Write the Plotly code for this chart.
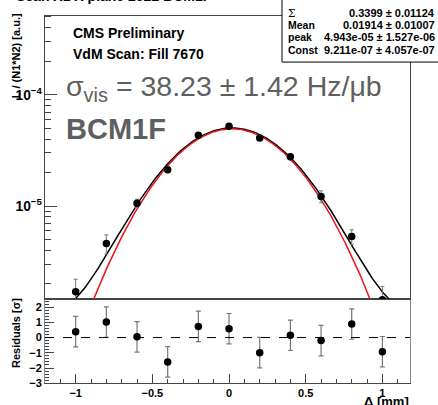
import numpy as np
import plotly.graph_objects as go

# ---- data ----
sep = [-1.0, -0.8, -0.6, -0.4, -0.2, 0.0, 0.2, 0.4, 0.6, 0.8, 1.0]
rate = [1.70e-6, 4.60e-6, 1.06e-5, 2.12e-5, 4.33e-5, 5.21e-5, 4.08e-5, 2.77e-5, 1.22e-5, 5.32e-6, 1.44e-6]
rate_err = [5.0e-7, 9.0e-7, 9.0e-7, 1.2e-6, 1.2e-6, 1.2e-6, 1.4e-6, 1.6e-6, 1.5e-6, 8.0e-7, 4.5e-7]
resid = [0.39, 1.02, 0.05, -1.60, 0.73, 0.58, -0.99, 0.15, -0.20, 0.89, -0.93]
resid_err = [1.0] * 11

fit_sigma = 0.3399
fit_mean = 0.01914
fit_peak = 4.943e-05
fit_const = 9.211e-07

stat_labels = ["Σ", "Mean", "peak", "Const"]
stat_values = ["0.3399 ± 0.01124", "0.01914 ± 0.01007", "4.943e-05 ± 1.527e-06", "9.211e-07 ± 4.057e-07"]

x_ticks_lower = [-1, -0.5, 0, 0.5, 1]
res_ticks = [-3, -2, -1, 0, 1, 2]
log_minor = [m * 10.0 ** e for e in (-6, -5, -4) for m in range(2, 10)]

W, H = 438, 405
def px(x): return x / W
def py(y): return 1 - y / H

FONT = "Liberation Sans, Arial, sans-serif"

xf = np.linspace(-1.2, 1.2, 400)
gauss = fit_peak * np.exp(-(xf - fit_mean) ** 2 / (2 * fit_sigma ** 2))
black_fit = gauss + fit_const
red_fit = gauss

fig = go.Figure()
fig.add_trace(go.Scatter(x=xf, y=black_fit, mode="lines", line=dict(color="black", width=1.5),
                         xaxis="x2", yaxis="y2", showlegend=False))
fig.add_trace(go.Scatter(x=xf, y=red_fit, mode="lines", line=dict(color="#e8141c", width=1.5),
                         xaxis="x2", yaxis="y2", showlegend=False))
fig.add_trace(go.Scatter(x=sep, y=rate, mode="markers",
                         marker=dict(color="black", size=7.5),
                         error_y=dict(type="data", array=rate_err, color="#777", thickness=1, width=2),
                         xaxis="x2", yaxis="y2", showlegend=False))
fig.add_trace(go.Scatter(x=sep, y=resid, mode="markers",
                         marker=dict(color="black", size=7.5),
                         error_y=dict(type="data", array=resid_err, color="#777", thickness=1.2, width=2.5),
                         xaxis="x", yaxis="y", showlegend=False))
# invisible trace to carry the minor-tick overlay axis
fig.add_trace(go.Scatter(x=[0], y=[1e-5], mode="markers", marker=dict(opacity=0),
                         xaxis="x2", yaxis="y3", showlegend=False, hoverinfo="skip"))

x0, x1 = 45, 410
ytop, ymid, ybot = 16, 304, 389
xr = [-1.2, 1.18]
yr_log = [-5.84, -3.29]
axcol = "#444"
tickfont = dict(family=FONT, size=11, color="black", weight="bold")

fig.update_layout(
    width=W, height=H, margin=dict(l=0, r=0, t=0, b=0),
    paper_bgcolor="white", plot_bgcolor="white",
    xaxis=dict(domain=[px(x0), px(x1)], anchor="y", range=xr, tickvals=x_ticks_lower,
               ticktext=["−1", "−0.5", "0", "0.5", "1"],
               ticks="inside", ticklen=9, tickcolor=axcol, showline=True, linecolor=axcol,
               mirror=True, showgrid=False, zeroline=False, tickfont=tickfont,
               minor=dict(dtick=0.1, ticks="inside", ticklen=4, tickcolor=axcol, showgrid=False)),
    yaxis=dict(domain=[py(ybot), py(ymid)], anchor="x", range=[-3, 2.5], tickvals=res_ticks,
               ticks="inside", ticklen=9, tickcolor=axcol, showline=True, linecolor="#888",
               mirror=True, showgrid=False, zeroline=False, tickfont=tickfont,
               minor=dict(dtick=0.2, ticks="inside", ticklen=4, tickcolor=axcol, showgrid=False)),
    xaxis2=dict(domain=[px(x0), px(x1)], anchor="y2", range=xr, matches="x", showticklabels=False,
                ticks="", showline=True, linecolor=axcol, mirror=True, showgrid=False, zeroline=False),
    yaxis2=dict(domain=[py(ymid), py(ytop)], anchor="x2", type="log", range=yr_log,
                dtick=1, exponentformat="power", ticks="inside", ticklen=12, tickcolor=axcol,
                showline=True, linecolor=axcol, mirror=True, showgrid=False, zeroline=False,
                tickfont=tickfont),
    yaxis3=dict(overlaying="y2", anchor="x2", side="left", type="log", range=yr_log,
                tickvals=log_minor, ticks="inside", ticklen=6, tickcolor=axcol,
                showticklabels=False, showline=False, showgrid=False, zeroline=False),
)

# zero line in residual panel
fig.add_shape(type="line", xref="x", yref="y", x0=xr[0], x1=xr[1], y0=0, y1=0,
              line=dict(color="black", width=1, dash="dash"))

def ann(text, x, y, size, color="black", bold=True, xanchor="left", yanchor="middle", angle=0, family=FONT):
    fig.add_annotation(text=text, x=px(x), y=py(y), xref="paper", yref="paper", showarrow=False,
                       xanchor=xanchor, yanchor=yanchor, textangle=angle,
                       font=dict(family=family, size=size, color=color, weight="bold" if bold else "normal"))

ann("Scan X1 X plane 2022 BCM1F", 14, -4, 14)
ann("CMS Preliminary", 71, 33, 14)
ann("VdM Scan: Fill 7670", 71, 55, 14)
ann("σ<sub>vis</sub> = 38.23 ± 1.42 Hz/μb", 64, 89, 28.5, color="#5f5f5f", bold=False)
ann("BCM1F", 64, 131, 29, color="#5f5f5f")
ann("L / (N1*N2) [a.u.]", 16, 57, 11, angle=-90, xanchor="center", yanchor="middle")
ann("Residuals [σ]", 16, 338, 11, angle=-90, xanchor="center", yanchor="middle")
ann("Δ [mm]", 411, 408, 13, xanchor="right")

# stats box
fig.add_shape(type="rect", xref="paper", yref="paper", x0=px(282), x1=px(445), y0=py(63), y1=py(-5),
              fillcolor="white", line=dict(color="black", width=1))
for i, (lab, val) in enumerate(zip(stat_labels, stat_values)):
    yy = 13 + i * 12.5
    ann(lab, 286, yy, 10.5, bold=(i > 0), family=FONT if i > 0 else "DejaVu Serif")
    ann(val, 437, yy, 11, xanchor="right")

fig.write_html("out.html")
